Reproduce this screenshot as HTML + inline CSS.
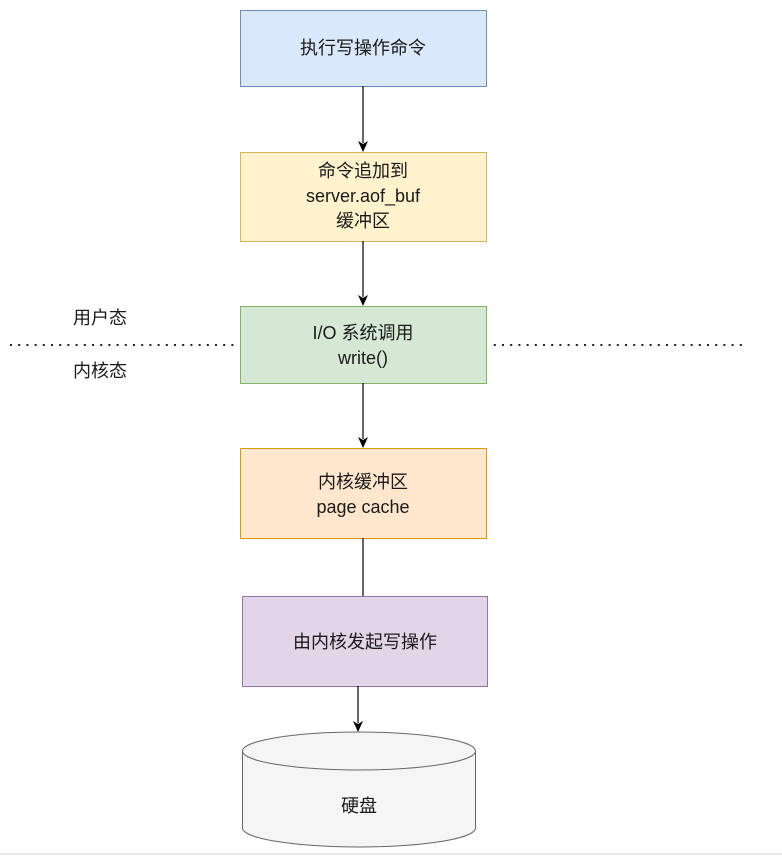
<!DOCTYPE html>
<html><head><meta charset="utf-8"><style>
html,body{margin:0;padding:0;background:#fff;width:782px;height:857px;overflow:hidden}
svg text{font-family:"Liberation Sans","Noto Sans CJK SC",sans-serif;font-size:18px;fill:#1a1a1a}
</style></head><body>
<svg width="782" height="857" viewBox="0 0 782 857" xmlns="http://www.w3.org/2000/svg">
<defs><marker id="a" markerWidth="10" markerHeight="10" refX="5" refY="9" orient="auto" markerUnits="userSpaceOnUse"><path d="M0,0 L5,3 L10,0 L5,10 Z" transform="rotate(-90 5 5) translate(0,0)" fill="none"/></marker></defs>
<line x1="10" y1="345" x2="748" y2="345" stroke="#222" stroke-width="2" stroke-dasharray="2,6.2"/>
<text x="100" y="324" text-anchor="middle">用户态</text>
<text x="100" y="377" text-anchor="middle">内核态</text>

<rect x="240.5" y="10.5" width="246" height="76" fill="#dae8fc" stroke="#6c8ebf"/>
<text x="363" y="54" text-anchor="middle">执行写操作命令</text>

<line x1="363" y1="86" x2="363" y2="143" stroke="#000" stroke-width="1.2"/>
<path d="M358,141 L363,152 L368,141 L363,144 Z" fill="#000"/>

<rect x="240.5" y="152.5" width="246" height="89" fill="#fff2cc" stroke="#d6b656"/>
<text x="363" y="177" text-anchor="middle">命令追加到</text>
<text x="363" y="202" text-anchor="middle">server.aof_buf</text>
<text x="363" y="227" text-anchor="middle">缓冲区</text>

<line x1="363" y1="241" x2="363" y2="297" stroke="#000" stroke-width="1.2"/>
<path d="M358,295 L363,306 L368,295 L363,298 Z" fill="#000"/>

<rect x="240.5" y="306.5" width="246" height="77" fill="#d5e8d4" stroke="#82b366"/>
<rect x="236" y="340" width="4" height="10" fill="#fff"/>
<rect x="487" y="340" width="4" height="10" fill="#fff"/>
<text x="363" y="339" text-anchor="middle">I/O 系统调用</text>
<text x="363" y="364" text-anchor="middle">write()</text>

<line x1="363" y1="383" x2="363" y2="439" stroke="#000" stroke-width="1.2"/>
<path d="M358,437 L363,448 L368,437 L363,440 Z" fill="#000"/>

<rect x="240.5" y="448.5" width="246" height="90" fill="#ffe6cc" stroke="#d79b00"/>
<text x="363" y="488" text-anchor="middle">内核缓冲区</text>
<text x="363" y="513" text-anchor="middle">page cache</text>

<line x1="363" y1="538" x2="363" y2="596" stroke="#000" stroke-width="1.2"/>

<rect x="242.5" y="596.5" width="245" height="90" fill="#e1d5e7" stroke="#9673a6"/>
<text x="365" y="648" text-anchor="middle">由内核发起写操作</text>

<line x1="358" y1="686" x2="358" y2="723" stroke="#000" stroke-width="1.2"/>
<path d="M353,721 L358,732 L363,721 L358,724 Z" fill="#000"/>

<path d="M242.5,751 L242.5,828 A116.5,19 0 0 0 475.5,828 L475.5,751 A116.5,19 0 0 0 242.5,751 Z" fill="#f5f5f5" stroke="#666"/>
<path d="M242.5,751 A116.5,19 0 0 0 475.5,751" fill="none" stroke="#666"/>
<text x="359" y="812" text-anchor="middle">硬盘</text>

<line x1="0" y1="854" x2="782" y2="854" stroke="#e6e6e6" stroke-width="2"/>
</svg>
</body></html>
